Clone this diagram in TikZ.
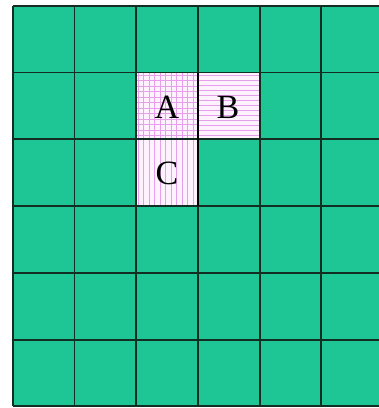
\documentclass[tikz,border=0pt]{standalone}
\usepackage{fontspec}
\setmainfont{Liberation Serif}
\definecolor{cellgreen}{RGB}{30,198,150}
\definecolor{gridline}{RGB}{20,45,35}
\definecolor{hatch}{RGB}{230,160,235}
\definecolor{pinkbg}{RGB}{253,242,253}
\begin{document}
\begin{tikzpicture}[x=1pt,y=-1pt,
  gridstyle/.style={draw=gridline,line width=1.3pt},
  hatchline/.style={draw=hatch,line width=0.7pt},
  letter/.style={font=\fontsize{34}{34}\selectfont,text=black,inner sep=0pt}]
\useasboundingbox (0,0) rectangle (379,408);
\fill[white] (0,0) rectangle (379,408);
\begin{scope}
\clip (0,0) rectangle (379,408);
\fill[cellgreen] (13,6) rectangle (390,406);
% pink cells
\fill[pinkbg] (136,72.5) rectangle (198,206);
\fill[pinkbg] (198,72.5) rectangle (260,139);
% A: grid hatch
\begin{scope}
\clip (136,72.5) rectangle (198,139);
\foreach \x in {138,143.5,...,198} \draw[hatchline] (\x,72) -- (\x,140);
\foreach \y in {75,80.5,...,139} \draw[hatchline] (135,\y) -- (199,\y);
\end{scope}
% B: horizontal hatch
\begin{scope}
\clip (198,72.5) rectangle (260,139);
\foreach \y in {75,80,...,139} \draw[hatchline] (197,\y) -- (261,\y);
\end{scope}
% C: vertical hatch
\begin{scope}
\clip (136,139) rectangle (198,206);
\foreach \x in {138,143.5,...,198} \draw[hatchline] (\x,138) -- (\x,207);
\end{scope}
% grid
\foreach \x in {13,74.5,136,198,260,321}
  \draw[gridstyle] (\x,6) -- (\x,406);
\foreach \y in {6,72.5,139,206,273,340,406}
  \draw[gridstyle] (13,\y) -- (390,\y);
\end{scope}
\draw[draw=black,line width=2.6pt] (198,72.5) -- (198,206);
\node[letter] (A) at (167,107) {A};
\node[letter] (B) at (228,107) {B};
\node[letter] (C) at (167,173) {C};
\end{tikzpicture}
\end{document}
